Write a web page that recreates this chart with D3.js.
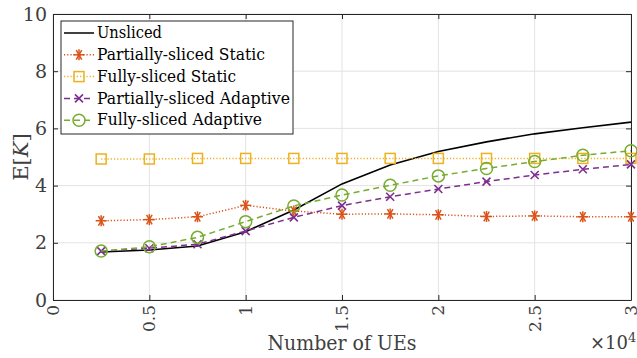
<!DOCTYPE html>
<html>
<head>
<meta charset="utf-8">
<script src="https://cdn.jsdelivr.net/npm/d3@7"></script>
<style>
  html, body { margin: 0; padding: 0; background: #fff; }
  svg { display: block; }
</style>
</head>
<body>
<svg id="chart" width="637" height="358" font-family="'DejaVu Serif', 'Liberation Serif', 'Times New Roman', Times, serif"></svg>
<script>
// Number of UEs (x) and expected K for each scheme
const numUEs = [2500, 5000, 7500, 10000, 12500, 15000, 17500, 20000, 22500, 25000, 27500, 30000];
const unsliced        = [1.68, 1.75, 1.89, 2.39, 3.15, 4.06, 4.72, 5.19, 5.53, 5.81, 6.02, 6.22];
const partialStatic   = [2.77, 2.81, 2.91, 3.31, 3.11, 3.00, 3.01, 2.98, 2.92, 2.94, 2.91, 2.91];
const fullStatic      = [4.93, 4.93, 4.95, 4.95, 4.95, 4.95, 4.95, 4.95, 4.95, 4.95, 4.95, 4.95];
const partialAdaptive = [1.71, 1.81, 1.95, 2.41, 2.89, 3.30, 3.61, 3.88, 4.14, 4.37, 4.57, 4.74];
const fullAdaptive    = [1.71, 1.86, 2.19, 2.74, 3.29, 3.67, 4.01, 4.34, 4.60, 4.84, 5.06, 5.22];

const xTickValues = [0, 5000, 10000, 15000, 20000, 25000, 30000];
const xTickLabels = ["0", "0.5", "1", "1.5", "2", "2.5", "3"];
const yTickValues = [0, 2, 4, 6, 8, 10];

const seriesNames = ["Unsliced", "Partially-sliced Static", "Fully-sliced Static",
                     "Partially-sliced Adaptive", "Fully-sliced Adaptive"];
const seriesValues = [unsliced, partialStatic, fullStatic, partialAdaptive, fullAdaptive];
const seriesColors = ["#000000", "#D95319", "#EDB120", "#7E2F8E", "#77AC30"];
const seriesDash   = [null, "1.2,2", "1.2,2", "6,4", "6,4"];
const seriesMarker = [null, "asterisk", "square", "cross", "circle"];

const svg = d3.select("#chart");
const m = { left: 53, right: 631, top: 14, bottom: 300 };

const x = d3.scaleLinear().domain([0, 30000]).range([m.left, m.right]);
const y = d3.scaleLinear().domain([0, 10]).range([m.bottom, m.top]);

const axisColor = "#262626";
const textColor = "#404040";
const gridColor = "#e3e3e3";

// grid
const grid = svg.append("g");
grid.selectAll("line.gx").data(xTickValues).join("line")
  .attr("x1", d => x(d)).attr("x2", d => x(d))
  .attr("y1", m.top).attr("y2", m.bottom)
  .attr("stroke", gridColor).attr("stroke-width", 1);
grid.selectAll("line.gy").data(yTickValues).join("line")
  .attr("x1", m.left).attr("x2", m.right)
  .attr("y1", d => y(d)).attr("y2", d => y(d))
  .attr("stroke", gridColor).attr("stroke-width", 1);

// axes on all four sides, ticks pointing inward
const tickLen = 5;
const bottomAxis = svg.append("g").attr("transform", `translate(0,${m.bottom})`)
  .call(d3.axisBottom(x).tickValues(xTickValues).tickSizeInner(-tickLen).tickSizeOuter(0).tickFormat(""));
const topAxis = svg.append("g").attr("transform", `translate(0,${m.top})`)
  .call(d3.axisTop(x).tickValues(xTickValues).tickSizeInner(-tickLen).tickSizeOuter(0).tickFormat(""));
const leftAxis = svg.append("g").attr("transform", `translate(${m.left},0)`)
  .call(d3.axisLeft(y).tickValues(yTickValues).tickSizeInner(-tickLen).tickSizeOuter(0).tickFormat(""));
const rightAxis = svg.append("g").attr("transform", `translate(${m.right},0)`)
  .call(d3.axisRight(y).tickValues(yTickValues).tickSizeInner(-tickLen).tickSizeOuter(0).tickFormat(""));
[bottomAxis, topAxis, leftAxis, rightAxis].forEach(g => {
  g.selectAll("path").attr("stroke", axisColor).attr("stroke-width", 1);
  g.selectAll("line").attr("stroke", axisColor).attr("stroke-width", 1);
});

// y tick labels
svg.append("g").selectAll("text").data(yTickValues).join("text")
  .attr("x", m.left - 6).attr("y", d => y(d))
  .attr("dy", "0.35em").attr("text-anchor", "end").attr("fill", textColor)
  .attr("font-size", 19).text(d => d);

// x tick labels, rotated
svg.append("g").selectAll("text").data(xTickValues).join("text")
  .attr("transform", d => `translate(${x(d)},${m.bottom + 5}) rotate(-90)`)
  .attr("text-anchor", "end").attr("dy", "0.35em").attr("fill", textColor)
  .attr("font-size", 17).text((d, i) => xTickLabels[i]);

// axis titles
svg.append("text").attr("x", 342).attr("y", 350).attr("text-anchor", "middle").attr("fill", textColor)
  .attr("font-size", 20).attr("textLength", 149).attr("lengthAdjust", "spacingAndGlyphs")
  .text("Number of UEs");
const xm = svg.append("text").attr("x", 590).attr("y", 349).attr("font-size", 18).attr("fill", textColor);
xm.append("tspan").text("×10");
xm.append("tspan").attr("dy", -7).attr("font-size", 13).text("4");

const yl = svg.append("text").attr("transform", "translate(28,157) rotate(-90)")
  .attr("text-anchor", "middle").attr("font-size", 21).attr("fill", textColor);
yl.append("tspan").text("E[");
yl.append("tspan").attr("font-style", "italic").text("K");
yl.append("tspan").text("]");

// markers
function drawMarker(g, type, color) {
  if (type === "asterisk") {
    const r = 5.5;
    [0, 60, 120].forEach(a => {
      const rad = a * Math.PI / 180;
      g.append("line").attr("x1", -r * Math.cos(rad)).attr("y1", -r * Math.sin(rad))
        .attr("x2", r * Math.cos(rad)).attr("y2", r * Math.sin(rad))
        .attr("stroke", color).attr("stroke-width", 1.5);
    });
    g.append("line").attr("x1", 0).attr("y1", -r).attr("x2", 0).attr("y2", r)
      .attr("stroke", color).attr("stroke-width", 1.5);
  } else if (type === "square") {
    g.append("rect").attr("x", -5).attr("y", -5).attr("width", 10).attr("height", 10)
      .attr("fill", "none").attr("stroke", color).attr("stroke-width", 1.5);
  } else if (type === "cross") {
    const r = 4;
    g.append("path").attr("d", `M${-r},${-r}L${r},${r}M${-r},${r}L${r},${-r}`)
      .attr("stroke", color).attr("stroke-width", 1.6).attr("fill", "none");
  } else if (type === "circle") {
    g.append("circle").attr("r", 6).attr("fill", "none")
      .attr("stroke", color).attr("stroke-width", 1.5);
  }
}

const line = d3.line().x((d, i) => x(numUEs[i])).y(d => y(d));
const plot = svg.append("g");
seriesValues.forEach((vals, s) => {
  plot.append("path").datum(vals).attr("d", line)
    .attr("fill", "none").attr("stroke", seriesColors[s])
    .attr("stroke-width", s === 0 ? 1.6 : 1.5)
    .attr("stroke-dasharray", seriesDash[s]);
  if (seriesMarker[s]) {
    vals.forEach((v, i) => {
      const g = plot.append("g").attr("transform", `translate(${x(numUEs[i])},${y(v)})`);
      drawMarker(g, seriesMarker[s], seriesColors[s]);
    });
  }
});

// legend
const lg = svg.append("g");
lg.append("rect").attr("x", 61).attr("y", 21).attr("width", 232).attr("height", 113)
  .attr("fill", "#fff").attr("stroke", axisColor).attr("stroke-width", 1);
const legendWidths = [65, 168, 139, 193, 165];
seriesNames.forEach((name, s) => {
  const cy = 33 + s * 21.8;
  lg.append("line").attr("x1", 64).attr("x2", 94).attr("y1", cy).attr("y2", cy)
    .attr("stroke", seriesColors[s]).attr("stroke-width", 1.5)
    .attr("stroke-dasharray", seriesDash[s]);
  if (seriesMarker[s]) {
    drawMarker(lg.append("g").attr("transform", `translate(79,${cy})`), seriesMarker[s], seriesColors[s]);
  }
  lg.append("text").attr("x", 97).attr("y", cy).attr("dy", "0.33em").attr("fill", "#000")
    .attr("font-size", 16).attr("textLength", legendWidths[s]).attr("lengthAdjust", "spacingAndGlyphs")
    .text(name);
});
</script>
</body>
</html>
